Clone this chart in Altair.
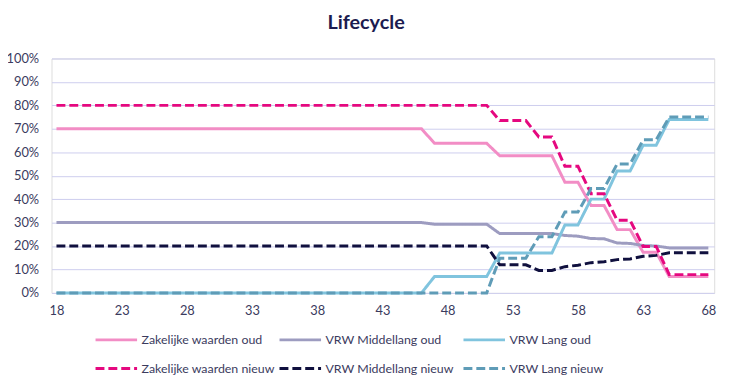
import altair as alt
import pandas as pd

ages = list(range(18, 69))

series_names = [
    "Zakelijke waarden oud",
    "VRW Middellang oud",
    "VRW Lang oud",
    "Zakelijke waarden nieuw",
    "VRW Middellang nieuw",
    "VRW Lang nieuw",
]
series_colors = ["#f28dc5", "#9d9cc0", "#80c4de", "#e5087f", "#10103e", "#5f9cb7"]
series_dash = [[1, 0], [1, 0], [1, 0], [9, 4], [9, 4], [9, 4]]

# values in percent, ages 18..68
zak_oud = [70, 70, 70, 70, 70, 70, 70, 70, 70, 70,
           70, 70, 70, 70, 70, 70, 70, 70, 70, 70,
           70, 70, 70, 70, 70, 70, 70, 70, 70,
           63.8, 63.8, 63.8, 63.8, 63.8,
           58.5, 58.5, 58.5, 58.5, 58.5,
           47.2, 47.2, 37.3, 37.3, 27, 27, 17.3, 17.3,
           7, 7, 7, 7]
mid_oud = [30, 30, 30, 30, 30, 30, 30, 30, 30, 30,
           30, 30, 30, 30, 30, 30, 30, 30, 30, 30,
           30, 30, 30, 30, 30, 30, 30, 30, 30,
           29.3, 29.3, 29.3, 29.3, 29.3,
           25.3, 25.3, 25.3, 25.3, 25.3,
           24.5, 24.2, 23.2, 23.1, 21.3, 21.1, 20.2, 20.0,
           19.2, 19.2, 19.2, 19.2]
lang_oud = [0, 0, 0, 0, 0, 0, 0, 0, 0, 0,
            0, 0, 0, 0, 0, 0, 0, 0, 0, 0,
            0, 0, 0, 0, 0, 0, 0, 0, 0,
            7, 7, 7, 7, 7,
            17, 17, 17, 17, 17,
            29, 29, 40, 40, 52, 52, 63, 63,
            74, 74, 74, 74]
zak_nieuw = [80, 80, 80, 80, 80, 80, 80, 80, 80, 80,
             80, 80, 80, 80, 80, 80, 80, 80, 80, 80,
             80, 80, 80, 80, 80, 80, 80, 80, 80,
             80, 80, 80, 80, 80,
             73.5, 73.5, 73.5, 66.5, 66.5,
             54, 54, 42.3, 42.3, 31, 31, 19.8, 19.8,
             7.8, 7.8, 7.8, 7.8]
mid_nieuw = [20, 20, 20, 20, 20, 20, 20, 20, 20, 20,
             20, 20, 20, 20, 20, 20, 20, 20, 20, 20,
             20, 20, 20, 20, 20, 20, 20, 20, 20,
             20, 20, 20, 20, 20,
             12, 12, 12, 9.6, 9.6,
             11.2, 11.8, 12.9, 13.3, 14.2, 14.5, 15.6, 16.0,
             17.1, 17.1, 17.1, 17.1]
lang_nieuw = [0, 0, 0, 0, 0, 0, 0, 0, 0, 0,
              0, 0, 0, 0, 0, 0, 0, 0, 0, 0,
              0, 0, 0, 0, 0, 0, 0, 0, 0,
              0, 0, 0, 0, 0,
              14.8, 14.8, 14.8, 24, 24,
              34.5, 34.5, 44.5, 44.5, 55, 55, 65.3, 65.3,
              75, 75, 75, 75]

x_ticks = [18, 23, 28, 33, 38, 43, 48, 53, 58, 63, 68]
y_ticks = [0, 10, 20, 30, 40, 50, 60, 70, 80, 90, 100]

all_values = [zak_oud, mid_oud, lang_oud, zak_nieuw, mid_nieuw, lang_nieuw]
rows = []
for name, vals in zip(series_names, all_values):
    for a, v in zip(ages, vals):
        rows.append({"age": a, "value": v, "series": name})
df = pd.DataFrame(rows)

FONT = "Lato"
LABEL_COLOR = "#3b3b5e"
GRID_COLOR = "#cdcdee"

chart = (
    alt.Chart(df)
    .mark_line(strokeWidth=3, strokeCap="butt", strokeJoin="miter")
    .encode(
        x=alt.X(
            "age:Q",
            scale=alt.Scale(domain=[17.62, 68.45], nice=False, zero=False),
            axis=alt.Axis(
                values=x_ticks,
                title=None,
                grid=False,
                ticks=False,
                domain=False,
                labelPadding=12,
                labelFontSize=13,
                labelColor=LABEL_COLOR,
                labelFont=FONT,
            ),
        ),
        y=alt.Y(
            "value:Q",
            scale=alt.Scale(domain=[0, 100], nice=False),
            axis=alt.Axis(
                values=y_ticks,
                title=None,
                grid=True,
                gridColor=GRID_COLOR,
                gridWidth=1,
                ticks=False,
                domain=False,
                labelPadding=13,
                labelFontSize=13,
                labelColor=LABEL_COLOR,
                labelFont=FONT,
                labelExpr="datum.value + '%'",
            ),
        ),
        color=alt.Color(
            "series:N",
            scale=alt.Scale(domain=series_names, range=series_colors),
            sort=series_names,
            legend=alt.Legend(
                title=None,
                orient="none",
                legendX=43,
                legendY=262,
                direction="horizontal",
                columns=3,
                gridAlign="all",
                symbolType="stroke",
                symbolSize=1764,
                symbolStrokeWidth=3,
                labelFont=FONT,
                labelFontSize=12.5,
                labelColor=LABEL_COLOR,
                labelOffset=3,
                columnPadding=-2,
                rowPadding=-17,
                labelLimit=300,
            ),
        ),
        strokeDash=alt.StrokeDash(
            "series:N",
            scale=alt.Scale(domain=series_names, range=series_dash),
            sort=series_names,
            legend=None,
        ),
        detail="series:N",
    )
    .properties(
        width=670,
        height=237,
        padding={"left": 44, "top": 49, "right": 20, "bottom": 85},
        autosize=alt.AutoSizeParams(type="none"),
        title=alt.TitleParams(
            "Lifecycle",
            font=FONT,
            fontSize=20,
            fontWeight="bold",
            color="#1c1c50",
            anchor="middle",
            dx=-17,
            offset=20,
        ),
    )
    .configure_view(stroke=None)
    .configure(background="white")
)

chart.save("out.html", embed_options={"renderer": "svg", "actions": False})
